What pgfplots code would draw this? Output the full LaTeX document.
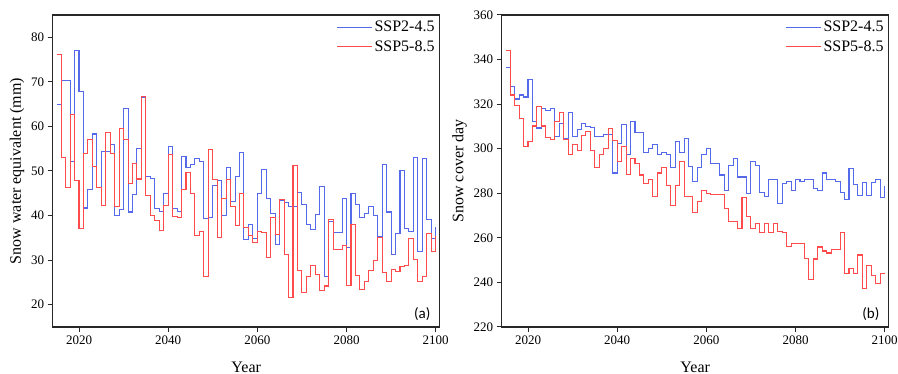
\documentclass[border=0pt]{standalone}
\usepackage{fontspec}
\setmainfont{Liberation Serif}
\newfontfamily\panelfont{Carlito}
\usepackage{pgfplots}
\usepackage{pgfplotstable}
\pgfplotsset{compat=1.18}
\definecolor{sspblue}{RGB}{85,105,235}
\definecolor{sspred}{RGB}{255,75,75}
\definecolor{axgray}{RGB}{40,40,40}

\pgfplotstableread{
year aB aR
2015 64.9 76.1
2016 70.3 53.1
2017 70.3 46.2
2018 52.1 62.6
2019 77.0 47.9
2020 67.9 37.2
2021 41.7 53.9
2022 45.9 57.1
2023 58.3 51.0
2024 46.2 46.2
2025 54.4 42.3
2026 54.4 58.6
2027 55.9 53.9
2028 40.1 42.0
2029 41.4 59.5
2030 64.0 57.1
2031 40.8 47.1
2032 44.8 51.7
2033 55.1 48.2
2034 66.6 66.7
2035 48.7 44.4
2036 48.3 40.1
2037 41.6 38.8
2038 40.9 36.6
2039 45.0 42.3
2040 55.6 53.7
2041 41.6 39.8
2042 41.0 39.6
2043 53.2 45.9
2044 50.8 49.7
2045 51.4 44.9
2046 52.8 35.5
2047 52.1 36.4
2048 39.4 26.4
2049 39.6 54.8
2050 46.7 48.1
2051 47.8 35.0
2052 40.0 43.8
2053 50.8 48.1
2054 43.2 42.0
2055 48.8 37.8
2056 54.2 45.0
2057 34.7 37.3
2058 38.0 35.5
2059 34.9 34.0
2060 44.9 36.5
2061 50.4 36.2
2062 43.9 30.6
2063 40.4 39.5
2064 33.6 35.8
2065 43.4 43.5
2066 43.0 31.3
2067 42.1 21.6
2068 42.0 51.2
2069 45.1 27.7
2070 42.4 22.8
2071 38.1 26.3
2072 36.9 28.9
2073 40.3 26.7
2074 46.6 23.1
2075 26.3 24.2
2076 38.7 39.2
2077 36.2 32.4
2078 36.2 32.4
2079 43.8 33.2
2080 32.8 24.4
2081 45.0 38.0
2082 42.5 26.5
2083 39.5 23.4
2084 40.4 25.2
2085 42.0 27.7
2086 40.0 29.9
2087 35.2 35.1
2088 51.5 27.2
2089 40.8 25.2
2090 31.3 28.0
2091 35.9 27.4
2092 50.1 28.5
2093 37.0 28.9
2094 36.4 34.9
2095 53.0 30.2
2096 31.9 25.2
2097 52.7 26.3
2098 39.2 36.0
2099 34.9 31.9
2100 37.5 35.5
}\swetable

\pgfplotstableread{
year bB bR
2015 336.3 344.2
2016 328.0 324.1
2017 322.3 319.3
2018 324.1 313.4
2019 323.2 301.1
2020 331.2 303.2
2021 312.3 310.2
2022 309.3 319.0
2023 318.1 310.2
2024 317.2 305.1
2025 318.1 304.2
2026 305.3 312.2
2027 311.3 316.2
2028 304.4 304.1
2029 316.2 297.2
2030 305.3 302.0
2031 308.6 299.3
2032 311.3 305.9
2033 310.1 307.8
2034 309.5 299.3
2035 305.3 291.4
2036 305.3 297.2
2037 306.2 300.2
2038 306.2 309.2
2039 289.1 303.5
2040 302.3 294.2
2041 311.0 301.2
2042 297.2 288.4
2043 312.3 295.4
2044 307.4 293.3
2045 307.4 288.2
2046 298.4 284.3
2047 300.2 286.1
2048 302.1 278.6
2049 297.2 289.1
2050 298.1 291.4
2051 297.2 283.4
2052 291.5 274.5
2053 303.2 283.4
2054 298.1 294.2
2055 304.4 278.6
2056 292.1 278.6
2057 285.2 271.2
2058 291.4 276.2
2059 297.2 281.3
2060 300.2 280.1
2061 293.3 279.5
2062 293.3 279.5
2063 288.2 279.5
2064 281.3 273.2
2065 292.4 267.3
2066 295.4 267.3
2067 287.3 264.3
2068 287.3 278.3
2069 280.1 269.4
2070 294.2 264.3
2071 292.4 266.4
2072 280.4 262.2
2073 278.6 266.4
2074 286.1 262.2
2075 286.1 266.4
2076 275.3 262.9
2077 284.6 262.2
2078 285.2 256.2
2079 281.3 257.4
2080 286.1 257.4
2081 285.2 257.4
2082 286.1 250.9
2083 286.1 241.5
2084 282.2 250.5
2085 281.3 255.9
2086 289.1 254.1
2087 286.1 253.2
2088 286.1 254.7
2089 285.2 254.7
2090 280.4 262.5
2091 277.1 244.2
2092 291.2 246.3
2093 284.0 244.2
2094 278.9 252.3
2095 284.9 237.3
2096 278.9 247.8
2097 284.9 243.3
2098 286.1 239.7
2099 278.3 244.2
2100 283.1 244.2
}\sctable

\pgfplotsset{
  panel/.style={
    scale only axis,
    width=387pt, height=312pt,
    xmin=2014.1, xmax=2100.9,
    axis line style={axgray, line width=1.3pt},
    axis x line*=box, axis y line*=box,
    tick style={axgray, line width=1pt},
    tick align=outside,
    major tick length=5pt,
    xtick={2020,2040,...,2100},
    xtick pos=bottom, ytick pos=left,
    x tick label style={font=\fontsize{13}{13}\selectfont},
    y tick label style={font=\fontsize{13}{13}\selectfont},
    /pgf/number format/assume math mode=true,
    /pgf/number format/1000 sep={},
    xlabel={Year},
    xlabel style={font=\fontsize{16}{16}\selectfont, at={(0.5,0)}, yshift=-31pt, anchor=north},
    ylabel style={font=\fontsize{16}{16}\selectfont},
    legend style={draw=none, fill=none, at={(0.995,0.99)}, anchor=north east,
      font=\fontsize{16}{16}\selectfont, row sep=3pt, inner sep=1pt},
    legend cell align=left,
    legend image code/.code={\draw[#1, line width=1.05pt] (0pt,0pt) -- (35pt,0pt);},
    every axis plot/.append style={const plot, line width=1.05pt},
  },
}

\begin{document}
\begin{tikzpicture}
\useasboundingbox (0,0) rectangle (898pt,374pt);
\begin{axis}[panel, at={(52.7pt,47pt)}, anchor=south west,
  ymin=15, ymax=85, ytick={20,30,...,80},
  ylabel={Snow water equivalent (mm)}]
\addplot[sspblue] table[x=year, y=aB] {\swetable};
\addplot[sspred] table[x=year, y=aR] {\swetable};
\legend{SSP2-4.5, SSP5-8.5}
\node[font=\panelfont\fontsize{15}{15}\selectfont, anchor=south east] at (rel axis cs:0.985,0.01) {(a)};
\end{axis}
\begin{axis}[panel, at={(501.7pt,47pt)}, anchor=south west,
  ymin=220, ymax=360, ytick={220,240,...,360},
  ylabel={Snow cover day}]
\addplot[sspblue] table[x=year, y=bB] {\sctable};
\addplot[sspred] table[x=year, y=bR] {\sctable};
\legend{SSP2-4.5, SSP5-8.5}
\node[font=\panelfont\fontsize{15}{15}\selectfont, anchor=south east] at (rel axis cs:0.985,0.01) {(b)};
\end{axis}
\end{tikzpicture}
\end{document}
